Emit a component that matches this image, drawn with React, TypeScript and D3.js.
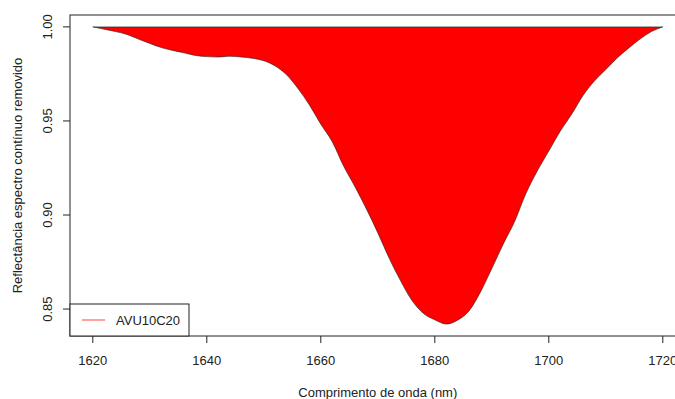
import React from "react";
import * as d3 from "d3";

const wavelengths = [
  1620, 1622, 1624, 1626, 1628, 1630, 1632, 1634, 1636, 1638,
  1640, 1642, 1644, 1646, 1648, 1650, 1652, 1654, 1656, 1658,
  1660, 1662, 1664, 1666, 1668, 1670, 1672, 1674, 1676, 1678,
  1680, 1682, 1684, 1686, 1688, 1690, 1692, 1694, 1696, 1698,
  1700, 1702, 1704, 1706, 1708, 1710, 1712, 1714, 1716, 1718, 1720,
];
const reflectance = [
  1.0, 0.9988, 0.9975, 0.996, 0.9935, 0.9912, 0.989, 0.9875, 0.9862, 0.9848,
  0.9842, 0.984, 0.9844, 0.984, 0.9833, 0.982, 0.9792, 0.9745, 0.9672, 0.9585,
  0.9483, 0.939, 0.926, 0.915, 0.9032, 0.8905, 0.877, 0.865, 0.8545, 0.8477,
  0.8443, 0.842, 0.8441, 0.849, 0.859, 0.8715, 0.8845, 0.8965, 0.9115, 0.9235,
  0.934, 0.9445, 0.9535, 0.9635, 0.9712, 0.9773, 0.9835, 0.9887, 0.9935, 0.9975, 1.0,
];
const xTicks = [1620, 1640, 1660, 1680, 1700, 1720];
const yTicks = [0.85, 0.9, 0.95, 1.0];
const seriesName = "AVU10C20";
const xTitle = "Comprimento de onda (nm)";
const yTitle = "Reflectância espectro contínuo removido";

export default function App() {
  const W = 675, H = 399;
  const left = 70, top = 15, bottom = 336;
  const xMin = d3.min(wavelengths)!, xMax = d3.max(wavelengths)!;
  const yMin = d3.min(reflectance)!, yMax = d3.max(reflectance)!;
  const xPad = (xMax - xMin) * 0.04, yPad = (yMax - yMin) * 0.04;
  const pxPerUnit = 5.7;
  const right = left + (xMax - xMin + 2 * xPad) * pxPerUnit;
  const x = d3.scaleLinear().domain([xMin - xPad, xMax + xPad]).range([left, right]);
  const y = d3.scaleLinear().domain([yMin - yPad, yMax + yPad]).range([bottom, top]);
  const pts: [number, number][] = wavelengths.map((w, i) => [w, reflectance[i]]);
  const line = d3.line<[number, number]>().x(d => x(d[0])).y(d => y(d[1])).curve(d3.curveMonotoneX);
  const path = line(pts)! + "Z";
  const font = "'Liberation Sans', Arial, sans-serif";
  const fs = 13;
  return (
    <div style={{ position: "fixed", left: 0, top: 0 }}>
      <svg width={W} height={H} style={{ display: "block", background: "#fff" }} fontFamily={font}>
        <defs>
          <clipPath id="plot">
            <rect x={left} y={top} width={right - left} height={bottom - top} />
          </clipPath>
        </defs>
        <path d={path} fill="#ff0000" stroke="#222" strokeWidth={0.6} clipPath="url(#plot)" />
        <rect x={left} y={top} width={right - left} height={bottom - top} fill="none" stroke="#222" strokeWidth={1} />
        {xTicks.map(t => (
          <g key={t}>
            <line x1={x(t)} x2={x(t)} y1={bottom} y2={bottom + 7} stroke="#222" />
            <text x={x(t)} y={365} textAnchor="middle" fontSize={fs} fill="#222">{t}</text>
          </g>
        ))}
        {yTicks.map(t => (
          <g key={t}>
            <line x1={left - 7} x2={left} y1={y(t)} y2={y(t)} stroke="#222" />
            <text transform={`translate(52,${y(t)}) rotate(-90)`} textAnchor="middle" fontSize={fs} fill="#222">{t.toFixed(2)}</text>
          </g>
        ))}
        <text x={(left + right) / 2} y={397} textAnchor="middle" fontSize={fs} fill="#222">{xTitle}</text>
        <text transform={`translate(22,${(top + bottom) / 2}) rotate(-90)`} textAnchor="middle" fontSize={fs} fill="#222">{yTitle}</text>
        <rect x={left} y={304} width={119} height={bottom - 304} fill="#fff" stroke="#222" />
        <line x1={82} x2={105} y1={320} y2={320} stroke="#ff4040" strokeWidth={1} />
        <text x={116} y={325} fontSize={fs} fill="#222">{seriesName}</text>
      </svg>
    </div>
  );
}
